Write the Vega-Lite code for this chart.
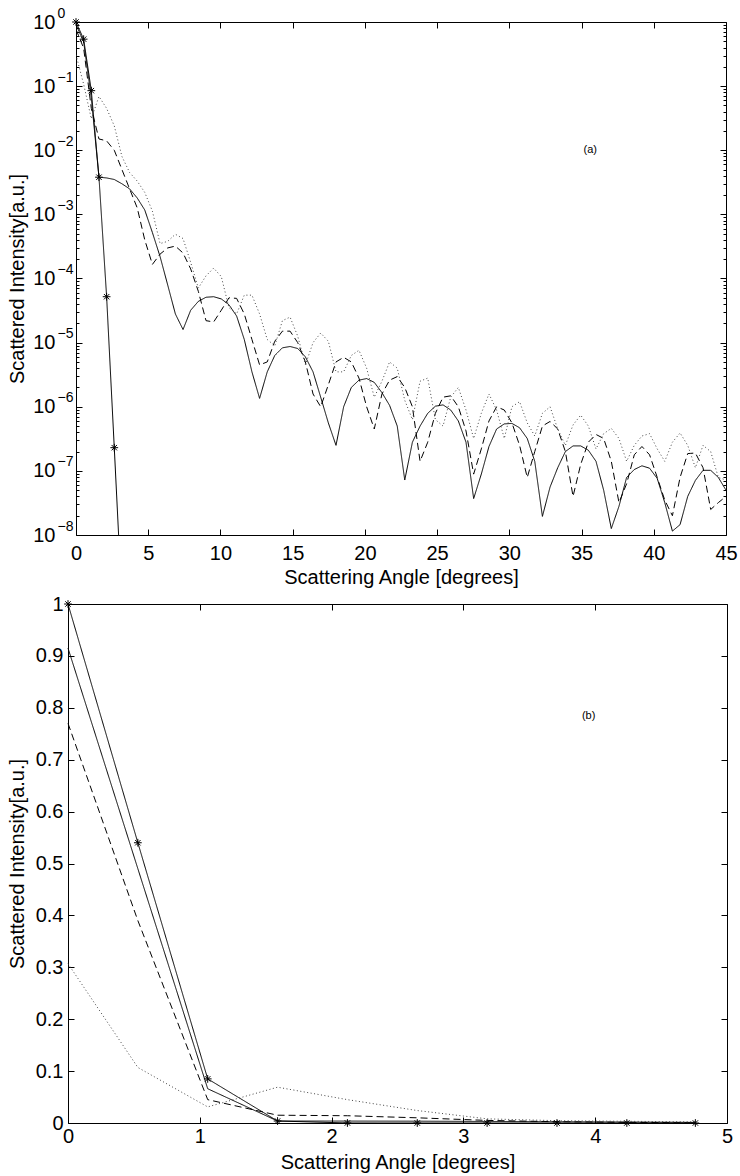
{
"$schema": "https://vega.github.io/schema/vega-lite/v6.json",
"background": "white",
"padding": {"left": 7, "top": 6, "right": 5, "bottom": 5},
"datasets": {
"notes": [{"p":"a","x":35.6,"y":0.01,"t":"(a)"},{"p":"b","x":3.95,"y":0.784,"t":"(b)"}],
"curves": [
{"s":"A","x":0,"v":1},{"s":"A","x":0.53,"v":0.54},{"s":"A","x":1.06,"v":0.085},{"s":"A","x":1.59,"v":0.0038},{"s":"A","x":2.12,"v":5.2e-5},{"s":"A","x":2.65,"v":2.3e-7},{"s":"A","x":3.18,"v":9e-10},{"s":"A","x":3.71,"v":1e-12},{"s":"A","x":4.24,"v":5e-16},{"s":"A","x":4.76,"v":1e-19},
{"s":"B","x":0,"v":0.915},{"s":"B","x":0.53,"v":0.49},{"s":"B","x":1.06,"v":0.066},{"s":"B","x":1.59,"v":0.0038},{"s":"B","x":2.12,"v":0.0037},{"s":"B","x":2.65,"v":0.0035},{"s":"B","x":3.18,"v":0.003},{"s":"B","x":3.71,"v":0.0025},{"s":"B","x":4.24,"v":0.0018},{"s":"B","x":4.76,"v":0.00117},
{"s":"B","x":5.29,"v":5.2e-4},{"s":"B","x":5.82,"v":2.2e-4},{"s":"B","x":6.35,"v":7.9e-5},{"s":"B","x":6.88,"v":2.8e-5},{"s":"B","x":7.41,"v":1.6e-5},{"s":"B","x":7.94,"v":3.2e-5},{"s":"B","x":8.47,"v":4.4e-5},{"s":"B","x":9.0,"v":5.1e-5},{"s":"B","x":9.53,"v":5.2e-5},{"s":"B","x":10.06,"v":4.8e-5},
{"s":"B","x":10.59,"v":3.9e-5},{"s":"B","x":11.12,"v":2.6e-5},{"s":"B","x":11.65,"v":1.12e-5},{"s":"B","x":12.18,"v":3.5e-6},{"s":"B","x":12.71,"v":1.35e-6},{"s":"B","x":13.24,"v":3.5e-6},{"s":"B","x":13.76,"v":6.3e-6},{"s":"B","x":14.29,"v":8.3e-6},{"s":"B","x":14.82,"v":8.7e-6},{"s":"B","x":15.35,"v":8.1e-6},
{"s":"B","x":15.88,"v":6.0e-6},{"s":"B","x":16.41,"v":3.5e-6},{"s":"B","x":16.94,"v":1.41e-6},{"s":"B","x":17.47,"v":5.6e-7},{"s":"B","x":18.0,"v":2.5e-7},{"s":"B","x":18.53,"v":1.0e-6},{"s":"B","x":19.06,"v":2.0e-6},{"s":"B","x":19.59,"v":2.6e-6},{"s":"B","x":20.12,"v":2.75e-6},{"s":"B","x":20.65,"v":2.4e-6},
{"s":"B","x":21.18,"v":1.66e-6},{"s":"B","x":21.71,"v":1.05e-6},{"s":"B","x":22.24,"v":5.0e-7},{"s":"B","x":22.76,"v":7.2e-8},{"s":"B","x":23.29,"v":2.8e-7},{"s":"B","x":23.82,"v":5.0e-7},{"s":"B","x":24.35,"v":7.9e-7},{"s":"B","x":24.88,"v":1.02e-6},{"s":"B","x":25.41,"v":1.07e-6},{"s":"B","x":25.94,"v":8.9e-7},
{"s":"B","x":26.47,"v":6.0e-7},{"s":"B","x":27.0,"v":2.8e-7},{"s":"B","x":27.53,"v":3.7e-8},{"s":"B","x":28.06,"v":8.9e-8},{"s":"B","x":28.59,"v":2.4e-7},{"s":"B","x":29.12,"v":4.5e-7},{"s":"B","x":29.65,"v":5.4e-7},{"s":"B","x":30.18,"v":5.5e-7},{"s":"B","x":30.71,"v":4.7e-7},{"s":"B","x":31.24,"v":3.2e-7},
{"s":"B","x":31.76,"v":1.41e-7},{"s":"B","x":32.29,"v":1.95e-8},{"s":"B","x":32.82,"v":5.6e-8},{"s":"B","x":33.35,"v":1.12e-7},{"s":"B","x":33.88,"v":2.0e-7},{"s":"B","x":34.41,"v":2.45e-7},{"s":"B","x":34.94,"v":2.45e-7},{"s":"B","x":35.47,"v":2.1e-7},{"s":"B","x":36.0,"v":1.41e-7},{"s":"B","x":36.53,"v":5.0e-8},
{"s":"B","x":37.06,"v":1.26e-8},{"s":"B","x":37.59,"v":2.8e-8},{"s":"B","x":38.12,"v":7.9e-8},{"s":"B","x":38.65,"v":1.05e-7},{"s":"B","x":39.18,"v":1.2e-7},{"s":"B","x":39.71,"v":1.1e-7},{"s":"B","x":40.24,"v":7.6e-8},{"s":"B","x":40.76,"v":3.2e-8},{"s":"B","x":41.29,"v":1.15e-8},{"s":"B","x":41.82,"v":1.45e-8},
{"s":"B","x":42.35,"v":4.0e-8},{"s":"B","x":42.88,"v":7.1e-8},{"s":"B","x":43.41,"v":1.02e-7},{"s":"B","x":43.94,"v":1.02e-7},{"s":"B","x":44.47,"v":7.9e-8},{"s":"B","x":45.0,"v":5.0e-8},
{"s":"C","x":0,"v":0.77},{"s":"C","x":0.53,"v":0.39},{"s":"C","x":1.06,"v":0.045},{"s":"C","x":1.59,"v":0.015},{"s":"C","x":2.12,"v":0.014},{"s":"C","x":2.65,"v":0.01},{"s":"C","x":3.18,"v":0.005},{"s":"C","x":3.71,"v":0.0025},{"s":"C","x":4.24,"v":0.00126},{"s":"C","x":4.76,"v":4.0e-4},
{"s":"C","x":5.29,"v":1.66e-4},{"s":"C","x":5.82,"v":2.4e-4},{"s":"C","x":6.35,"v":3.0e-4},{"s":"C","x":6.88,"v":3.2e-4},{"s":"C","x":7.41,"v":2.5e-4},{"s":"C","x":7.94,"v":1.41e-4},{"s":"C","x":8.47,"v":6.3e-5},{"s":"C","x":9.0,"v":2.2e-5},{"s":"C","x":9.53,"v":2.1e-5},{"s":"C","x":10.06,"v":3.2e-5},
{"s":"C","x":10.59,"v":5.0e-5},{"s":"C","x":11.12,"v":4.9e-5},{"s":"C","x":11.65,"v":2.8e-5},{"s":"C","x":12.18,"v":1.12e-5},{"s":"C","x":12.71,"v":4.5e-6},{"s":"C","x":13.24,"v":5.0e-6},{"s":"C","x":13.76,"v":1.05e-5},{"s":"C","x":14.29,"v":1.51e-5},{"s":"C","x":14.82,"v":1.51e-5},{"s":"C","x":15.35,"v":1.0e-5},
{"s":"C","x":15.88,"v":5.0e-6},{"s":"C","x":16.41,"v":1.58e-6},{"s":"C","x":16.94,"v":1.0e-6},{"s":"C","x":17.47,"v":2.2e-6},{"s":"C","x":18.0,"v":5.0e-6},{"s":"C","x":18.53,"v":5.9e-6},{"s":"C","x":19.06,"v":5.0e-6},{"s":"C","x":19.59,"v":2.8e-6},{"s":"C","x":20.12,"v":1.0e-6},{"s":"C","x":20.65,"v":4.5e-7},
{"s":"C","x":21.18,"v":1.58e-6},{"s":"C","x":21.71,"v":2.6e-6},{"s":"C","x":22.24,"v":2.95e-6},{"s":"C","x":22.76,"v":2.0e-6},{"s":"C","x":23.29,"v":1.0e-6},{"s":"C","x":23.82,"v":1.41e-7},{"s":"C","x":24.35,"v":2.8e-7},{"s":"C","x":24.88,"v":7.9e-7},{"s":"C","x":25.41,"v":1.41e-6},{"s":"C","x":25.94,"v":1.48e-6},
{"s":"C","x":26.47,"v":1.0e-6},{"s":"C","x":27.0,"v":4.2e-7},{"s":"C","x":27.53,"v":8.9e-8},{"s":"C","x":28.06,"v":2.2e-7},{"s":"C","x":28.59,"v":6.0e-7},{"s":"C","x":29.12,"v":1.0e-6},{"s":"C","x":29.65,"v":8.9e-7},{"s":"C","x":30.18,"v":5.6e-7},{"s":"C","x":30.71,"v":2.5e-7},{"s":"C","x":31.24,"v":7.9e-8},
{"s":"C","x":31.76,"v":2.0e-7},{"s":"C","x":32.29,"v":5.0e-7},{"s":"C","x":32.82,"v":5.9e-7},{"s":"C","x":33.35,"v":4.5e-7},{"s":"C","x":33.88,"v":2.0e-7},{"s":"C","x":34.41,"v":4.0e-8},{"s":"C","x":34.94,"v":1.26e-7},{"s":"C","x":35.47,"v":2.8e-7},{"s":"C","x":36.0,"v":3.7e-7},{"s":"C","x":36.53,"v":3.2e-7},
{"s":"C","x":37.06,"v":1.41e-7},{"s":"C","x":37.59,"v":3.2e-8},{"s":"C","x":38.12,"v":6.3e-8},{"s":"C","x":38.65,"v":1.78e-7},{"s":"C","x":39.18,"v":2.4e-7},{"s":"C","x":39.71,"v":1.78e-7},{"s":"C","x":40.24,"v":7.9e-8},{"s":"C","x":40.76,"v":3.5e-8},{"s":"C","x":41.29,"v":2.0e-8},{"s":"C","x":41.82,"v":7.9e-8},
{"s":"C","x":42.35,"v":1.86e-7},{"s":"C","x":42.88,"v":1.9e-7},{"s":"C","x":43.41,"v":1.12e-7},{"s":"C","x":43.94,"v":2.5e-8},{"s":"C","x":44.47,"v":3.2e-8},{"s":"C","x":45.0,"v":4.0e-8},
{"s":"D","x":0,"v":0.307},{"s":"D","x":0.53,"v":0.107},{"s":"D","x":1.06,"v":0.031},{"s":"D","x":1.59,"v":0.069},{"s":"D","x":2.12,"v":0.045},{"s":"D","x":2.65,"v":0.024},{"s":"D","x":3.18,"v":0.008},{"s":"D","x":3.71,"v":0.0045},{"s":"D","x":4.24,"v":0.0033},{"s":"D","x":4.76,"v":0.0022},
{"s":"D","x":5.29,"v":0.00112},{"s":"D","x":5.82,"v":3.5e-4},{"s":"D","x":6.35,"v":3.8e-4},{"s":"D","x":6.88,"v":4.9e-4},{"s":"D","x":7.41,"v":4.2e-4},{"s":"D","x":7.94,"v":1.78e-4},{"s":"D","x":8.47,"v":7.1e-5},{"s":"D","x":9.0,"v":1.1e-4},{"s":"D","x":9.53,"v":1.45e-4},{"s":"D","x":10.06,"v":1.07e-4},
{"s":"D","x":10.59,"v":3.5e-5},{"s":"D","x":11.12,"v":2.8e-5},{"s":"D","x":11.65,"v":5.5e-5},{"s":"D","x":12.18,"v":5.5e-5},{"s":"D","x":12.71,"v":2.8e-5},{"s":"D","x":13.24,"v":1.12e-5},{"s":"D","x":13.76,"v":8.9e-6},{"s":"D","x":14.29,"v":2.2e-5},{"s":"D","x":14.82,"v":2.5e-5},{"s":"D","x":15.35,"v":1.26e-5},
{"s":"D","x":15.88,"v":4.5e-6},{"s":"D","x":16.41,"v":1.0e-5},{"s":"D","x":16.94,"v":1.41e-5},{"s":"D","x":17.47,"v":1.05e-5},{"s":"D","x":18.0,"v":3.5e-6},{"s":"D","x":18.53,"v":3.5e-6},{"s":"D","x":19.06,"v":6.3e-6},{"s":"D","x":19.59,"v":7.6e-6},{"s":"D","x":20.12,"v":4.0e-6},{"s":"D","x":20.65,"v":1.41e-6},
{"s":"D","x":21.18,"v":2.5e-6},{"s":"D","x":21.71,"v":5.0e-6},{"s":"D","x":22.24,"v":4.0e-6},{"s":"D","x":22.76,"v":1.26e-6},{"s":"D","x":23.29,"v":6.3e-7},{"s":"D","x":23.82,"v":2.5e-6},{"s":"D","x":24.35,"v":2.8e-6},{"s":"D","x":24.88,"v":6.3e-7},{"s":"D","x":25.41,"v":5.0e-7},{"s":"D","x":25.94,"v":1.41e-6},
{"s":"D","x":26.47,"v":2.0e-6},{"s":"D","x":27.0,"v":8.9e-7},{"s":"D","x":27.53,"v":3.2e-7},{"s":"D","x":28.06,"v":7.9e-7},{"s":"D","x":28.59,"v":1.58e-6},{"s":"D","x":29.12,"v":8.9e-7},{"s":"D","x":29.65,"v":3.2e-7},{"s":"D","x":30.18,"v":1.0e-6},{"s":"D","x":30.71,"v":1.2e-6},{"s":"D","x":31.24,"v":5.6e-7},
{"s":"D","x":31.76,"v":3.5e-7},{"s":"D","x":32.29,"v":7.9e-7},{"s":"D","x":32.82,"v":1.0e-6},{"s":"D","x":33.35,"v":4.5e-7},{"s":"D","x":33.88,"v":2.5e-7},{"s":"D","x":34.41,"v":5.2e-7},{"s":"D","x":34.94,"v":7.4e-7},{"s":"D","x":35.47,"v":5.0e-7},{"s":"D","x":36.0,"v":2.2e-7},{"s":"D","x":36.53,"v":3.8e-7},
{"s":"D","x":37.06,"v":4.6e-7},{"s":"D","x":37.59,"v":3.2e-7},{"s":"D","x":38.12,"v":1.41e-7},{"s":"D","x":38.65,"v":2.5e-7},{"s":"D","x":39.18,"v":3.5e-7},{"s":"D","x":39.71,"v":3.8e-7},{"s":"D","x":40.24,"v":2.2e-7},{"s":"D","x":40.76,"v":1.41e-7},{"s":"D","x":41.29,"v":2.8e-7},{"s":"D","x":41.82,"v":3.9e-7},
{"s":"D","x":42.35,"v":2.5e-7},{"s":"D","x":42.88,"v":1.12e-7},{"s":"D","x":43.41,"v":2.5e-7},{"s":"D","x":43.94,"v":2.0e-7},{"s":"D","x":44.47,"v":7.9e-8},{"s":"D","x":45.0,"v":7.2e-8}
]
},
"columns": 1,
"align": "none",
"spacing": 7,
"concat": [
{
"width": 650, "height": 513,
"data": {"name": "curves"},
"layer": [
{
"mark": {"type": "line", "clip": true, "strokeWidth": 1},
"encoding": {
"x": {"field": "x", "type": "quantitative", "scale": {"domain": [0, 45], "nice": false, "zero": false},
"axis": {"orient": "bottom", "title": "Scattering Angle [degrees]", "values": [0,5,10,15,20,25,30,35,40,45], "tickSize": -6, "labelPadding": 14, "titlePadding": 4}},
"y": {"field": "v", "type": "quantitative", "scale": {"type": "log", "domain": [1e-8, 1], "nice": false},
"axis": {"orient": "left", "title": "Scattered Intensity[a.u.]",
"values": [1e-8,2e-8,3e-8,4e-8,5e-8,6e-8,7e-8,8e-8,9e-8,1e-7,2e-7,3e-7,4e-7,5e-7,6e-7,7e-7,8e-7,9e-7,1e-6,2e-6,3e-6,4e-6,5e-6,6e-6,7e-6,8e-6,9e-6,1e-5,2e-5,3e-5,4e-5,5e-5,6e-5,7e-5,8e-5,9e-5,1e-4,2e-4,3e-4,4e-4,5e-4,6e-4,7e-4,8e-4,9e-4,0.001,0.002,0.003,0.004,0.005,0.006,0.007,0.008,0.009,0.01,0.02,0.03,0.04,0.05,0.06,0.07,0.08,0.09,0.1,0.2,0.3,0.4,0.5,0.6,0.7,0.8,0.9,1],
"labelExpr": "abs(log(datum.value)/LN10 - round(log(datum.value)/LN10)) < 0.001 ? '10' : ''",
"tickSize": {"condition": {"test": "abs(log(datum.value)/LN10 - round(log(datum.value)/LN10)) < 0.001", "value": -6}, "value": -3},
"labelPadding": 27, "minExtent": 45, "maxExtent": 45, "titlePadding": 4}},
"detail": {"field": "s"},
"strokeDash": {"field": "s", "type": "nominal", "scale": {"domain": ["A","B","C","D"], "range": [[1,0],[1,0],[7,4],[1,2.5]]}, "legend": null},
"color": {"field": "s", "type": "nominal", "scale": {"domain": ["A","B","C","D"], "range": ["#000000","#000000","#000000","#444444"]}, "legend": null}
}
},
{
"transform": [{"filter": "datum.s == 'A' && datum.v >= 1e-8"}],
"mark": {"type": "point", "shape": "M -1 0 L 1 0 M 0 -1 L 0 1 M -0.7 -0.7 L 0.7 0.7 M -0.7 0.7 L 0.7 -0.7", "size": 60, "filled": false, "stroke": "black", "strokeWidth": 1, "opacity": 1},
"encoding": {
"x": {"field": "x", "type": "quantitative", "scale": {"domain": [0, 45], "nice": false, "zero": false},
"axis": {"orient": "top", "title": null, "labels": false, "values": [0,5,10,15,20,25,30,35,40,45], "tickSize": -6}},
"y": {"field": "v", "type": "quantitative", "scale": {"type": "log", "domain": [1e-8, 1], "nice": false},
"axis": {"orient": "right", "title": null, "labels": false,
"values": [1e-8,2e-8,3e-8,4e-8,5e-8,6e-8,7e-8,8e-8,9e-8,1e-7,2e-7,3e-7,4e-7,5e-7,6e-7,7e-7,8e-7,9e-7,1e-6,2e-6,3e-6,4e-6,5e-6,6e-6,7e-6,8e-6,9e-6,1e-5,2e-5,3e-5,4e-5,5e-5,6e-5,7e-5,8e-5,9e-5,1e-4,2e-4,3e-4,4e-4,5e-4,6e-4,7e-4,8e-4,9e-4,0.001,0.002,0.003,0.004,0.005,0.006,0.007,0.008,0.009,0.01,0.02,0.03,0.04,0.05,0.06,0.07,0.08,0.09,0.1,0.2,0.3,0.4,0.5,0.6,0.7,0.8,0.9,1],
"tickSize": {"condition": {"test": "abs(log(datum.value)/LN10 - round(log(datum.value)/LN10)) < 0.001", "value": -6}, "value": -3}}}
}
},
{
"data": {"name": "notes"},
"transform": [{"filter": "datum.p == 'a'"}],
"mark": {"type": "text", "fontSize": 11, "font": "Liberation Sans", "color": "black"},
"encoding": {
"x": {"field": "x", "type": "quantitative", "scale": {"domain": [0, 45], "nice": false, "zero": false}, "axis": null},
"y": {"field": "y", "type": "quantitative", "scale": {"type": "log", "domain": [1e-8, 1], "nice": false},
"axis": {"orient": "left", "title": null, "domain": false, "ticks": false, "tickSize": 0,
"values": [1e-8,1e-7,1e-6,1e-5,1e-4,0.001,0.01,0.1,1],
"labelExpr": "['0','−1','−2','−3','−4','−5','−6','−7','−8'][round(-log(datum.value)/LN10)]",
"labelFontSize": 14, "labelAlign": "left", "labelOffset": -9, "labelPadding": 19}},
"text": {"field": "t"}
}
}
],
"resolve": {"axis": {"x": "independent", "y": "independent"}}
},
{
"width": 651, "height": 519,
"data": {"name": "curves"},
"layer": [
{
"transform": [{"filter": "datum.x <= 5"}],
"mark": {"type": "line", "clip": false, "strokeWidth": 1},
"encoding": {
"x": {"field": "x", "type": "quantitative", "scale": {"domain": [0, 5], "range": [-8, 651], "nice": false, "zero": false},
"axis": {"orient": "bottom", "title": "Scattering Angle [degrees]", "values": [0,1,2,3,4,5], "tickSize": -6, "labelPadding": 9, "titlePadding": 6}},
"y": {"field": "v", "type": "quantitative", "scale": {"domain": [0, 1], "nice": false},
"axis": {"orient": "left", "offset": 8, "title": "Scattered Intensity[a.u.]", "values": [0,0.1,0.2,0.3,0.4,0.5,0.6,0.7,0.8,0.9,1], "format": ".1~f",
"tickSize": -6, "labelPadding": 11, "minExtent": 37, "maxExtent": 37, "titlePadding": 4}},
"detail": {"field": "s"},
"strokeDash": {"field": "s", "type": "nominal", "scale": {"domain": ["A","B","C","D"], "range": [[1,0],[1,0],[7,4],[1,2.5]]}, "legend": null},
"color": {"field": "s", "type": "nominal", "scale": {"domain": ["A","B","C","D"], "range": ["#000000","#000000","#000000","#444444"]}, "legend": null}
}
},
{
"transform": [{"filter": "datum.s == 'A'"}],
"mark": {"type": "point", "shape": "M -1 0 L 1 0 M 0 -1 L 0 1 M -0.7 -0.7 L 0.7 0.7 M -0.7 0.7 L 0.7 -0.7", "size": 60, "filled": false, "stroke": "black", "strokeWidth": 1, "opacity": 1},
"encoding": {
"x": {"field": "x", "type": "quantitative", "scale": {"domain": [0, 5], "range": [-8, 651], "nice": false, "zero": false},
"axis": {"orient": "top", "title": null, "labels": false, "values": [0,1,2,3,4,5], "tickSize": -6}},
"y": {"field": "v", "type": "quantitative", "scale": {"domain": [0, 1], "nice": false},
"axis": {"orient": "right", "title": null, "labels": false, "values": [0,0.1,0.2,0.3,0.4,0.5,0.6,0.7,0.8,0.9,1], "tickSize": -6}}
}
},
{
"data": {"name": "notes"},
"transform": [{"filter": "datum.p == 'b'"}],
"mark": {"type": "text", "fontSize": 11, "font": "Liberation Sans", "color": "black"},
"encoding": {
"x": {"field": "x", "type": "quantitative", "scale": {"domain": [0, 5], "range": [-8, 651], "nice": false, "zero": false}, "axis": null},
"y": {"field": "y", "type": "quantitative", "scale": {"domain": [0, 1], "nice": false}, "axis": null},
"text": {"field": "t"}
}
}
],
"resolve": {"axis": {"x": "independent", "y": "independent"}}
}
],
"config": {
"view": {"stroke": null},
"axis": {"labelFont": "Liberation Sans", "titleFont": "Liberation Sans", "labelFontSize": 20, "titleFontSize": 20, "titleFontWeight": "normal", "labelColor": "black", "titleColor": "black", "domainColor": "black", "tickColor": "black", "domainWidth": 1, "tickWidth": 1, "grid": false, "labelFlush": false, "labelOverlap": false, "labelBound": false}
}
}
